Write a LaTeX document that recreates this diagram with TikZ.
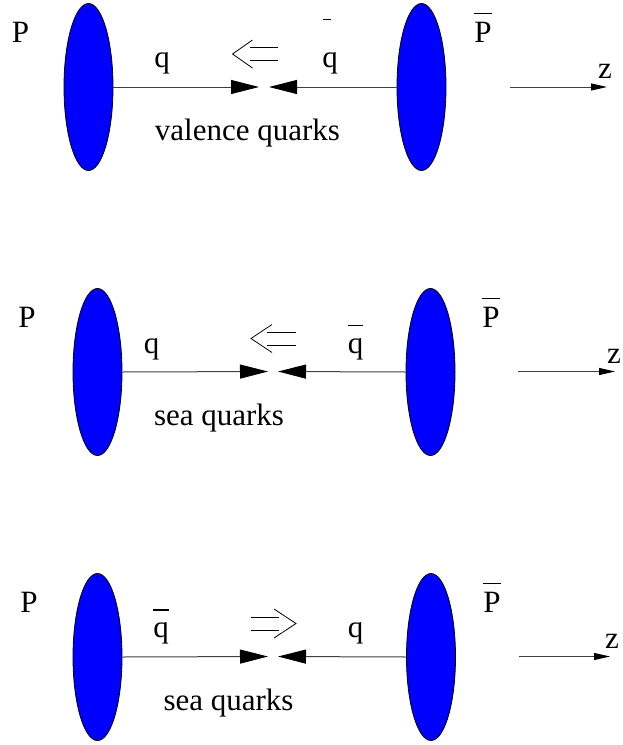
\documentclass[tikz,border=0pt]{standalone}
\usepackage{fontspec}
\setmainfont{Liberation Serif}
\newfontfamily\lserif{Liberation Serif}
\usetikzlibrary{shapes.geometric,arrows.meta}
\newcommand\obar[2][8pt]{\vbox{\hrule height 1.1pt\kern#1\hbox{#2}}}
\newcommand\sbar[1]{\vbox{\hbox{\kern0.5pt\vrule width 8pt height 1.1pt}\kern11pt\hbox{#1}}}
\begin{document}
\begin{tikzpicture}[x=1pt,y=-1pt,
  hadron/.style={ellipse,draw=black,line width=0.8pt,fill=blue,minimum width=49pt,minimum height=167pt,inner sep=0pt},
  lbl/.style={anchor=base,inner sep=0pt,font=\lserif\fontsize{31}{36}\selectfont},
  parton/.style={line width=1pt,draw=black!75,-{Triangle[length=28pt,width=14pt,color=black]}},
  axis/.style={line width=1pt,draw=black!75,-{Triangle[length=16pt,width=7pt,color=black]}},
  dir/.style={line width=0.8pt,draw=black}]
\useasboundingbox (0,0) rectangle (623,745);
% ---------- panel 1: valence quarks ----------
\node[hadron] (L1) at (88.5,87) {};
\node[hadron] (R1) at (421.5,87) {};
\coordinate (a1) at (259,87);
\coordinate (b1) at (269,87);
\draw[parton] (L1.east) -- (a1);
\draw[parton] (R1.west) -- (b1);
\node[lbl] (P1) at (20.5,42) {P};
\node[lbl] (Pb1) at (483,42) {\obar{P}};
\node[lbl] (q1) at (162,67) {q};
\node[lbl] (qb1) at (330,67) {\sbar{q}};
\node[lbl] (t1) at (247.5,140) {valence quarks};
\coordinate (za1) at (510,87);
\coordinate (zb1) at (607,87);
\draw[axis] (za1) -- (zb1);
\node[lbl] (z1) at (605,78) {z};
\coordinate (d1) at (232.5,54);
\draw[dir] (d1) ++(20,-14) -- (d1) -- ++(20,14);
\draw[dir] (d1) ++(17,-6.5) -- ++(28,0);
\draw[dir] (d1) ++(17,6.5) -- ++(28,0);
% ---------- panel 2: sea quarks ----------
\node[hadron] (L2) at (97.5,372) {};
\node[hadron] (R2) at (430.5,372) {};
\coordinate (a2) at (268,371.5);
\coordinate (b2) at (278,371.5);
\draw[parton] (L2.east) -- (a2);
\draw[parton] (R2.west) -- (b2);
\node[lbl] (P2) at (27,327) {P};
\node[lbl] (Pb2) at (491,327) {\obar{P}};
\node[lbl] (q2) at (151.5,353) {q};
\node[lbl] (qb2) at (355.5,353) {\obar[12pt]{q}};
\node[lbl] (t2) at (219,425) {sea quarks};
\coordinate (za2) at (518,371.5);
\coordinate (zb2) at (615,371.5);
\draw[axis] (za2) -- (zb2);
\node[lbl] (z2) at (614,363) {z};
\coordinate (d2) at (251,338.5);
\draw[dir] (d2) ++(21,-14) -- (d2) -- ++(21,14);
\draw[dir] (d2) ++(16,-6.5) -- ++(29,0);
\draw[dir] (d2) ++(16,6.5) -- ++(29,0);
% ---------- panel 3: sea quarks ----------
\node[hadron] (L3) at (97.5,657) {};
\node[hadron] (R3) at (431,657) {};
\coordinate (a3) at (268,656.5);
\coordinate (b3) at (278,656.5);
\draw[parton] (L3.east) -- (a3);
\draw[parton] (R3.west) -- (b3);
\node[lbl] (P3) at (29,612) {P};
\node[lbl] (Pb3) at (492,612) {\obar{P}};
\node[lbl] (qb3) at (161,637) {\obar[11.5pt]{q}};
\node[lbl] (q3) at (355.5,637) {q};
\node[lbl] (t3) at (228.5,710) {sea quarks};
\coordinate (za3) at (519,656.5);
\coordinate (zb3) at (610,656.5);
\draw[axis] (za3) -- (zb3);
\node[lbl] (z3) at (612,648) {z};
\coordinate (d3) at (296,623.5);
\draw[dir] (d3) ++(-22,-14.5) -- (d3) -- ++(-22,14.5);
\draw[dir] (d3) ++(-17,-6.5) -- ++(-28,0);
\draw[dir] (d3) ++(-17,6.5) -- ++(-28,0);
\end{tikzpicture}
\end{document}
